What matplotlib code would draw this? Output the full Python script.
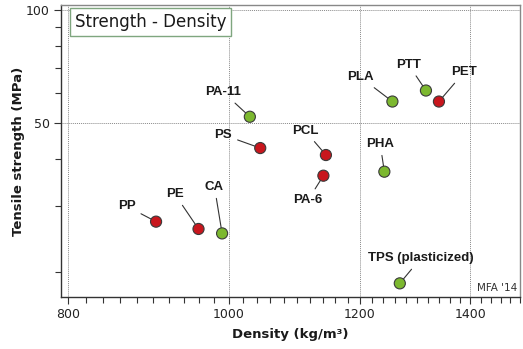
import matplotlib
matplotlib.use("Agg")
import matplotlib.pyplot as plt
from matplotlib.ticker import FixedLocator, NullFormatter, FixedFormatter

# ---- data ----
materials = ["PP", "PE", "CA", "PA-6", "TPS (plasticized)", "PA-11", "PS",
             "PCL", "PHA", "PLA", "PTT", "PET"]
density = [904, 959, 991, 1141, 1269, 1030, 1045, 1145, 1242, 1256, 1316, 1340]
strength = [27.2, 26.0, 25.3, 36.1, 18.6, 51.9, 42.8, 41.0, 37.0, 57.0, 61.0, 57.0]
biobased = [False, False, True, False, True, True, False, False, True, True, True, False]

x_major = [800, 1000, 1200, 1400]
x_major_labels = ["800", "1000", "1200", "1400"]
y_major = [50, 100]
y_major_labels = ["50", "100"]
y_minor = [20, 30, 40, 60, 70, 80, 90]
x_minor = list(range(820, 1501, 20))

# label offsets (points) relative to each marker - layout only
label_offsets = {
    "PP": (-21, 11), "PE": (-17, 25), "CA": (-5.5, 33.5), "PA-6": (-11, -17.5),
    "TPS (plasticized)": (15, 18), "PA-11": (-19, 17.5), "PS": (-26.5, 9.5),
    "PCL": (-15, 17.5), "PHA": (-3, 20), "PLA": (-23, 17.5), "PTT": (-12.5, 18.5),
    "PET": (18, 21),
}

RED = "#c8161d"
GREEN = "#7cb82f"

fig = plt.figure(figsize=(5.23, 3.49), dpi=100)
ax = fig.add_axes([61/523, 52/349, 459/523, 292/349])
ax.set_xscale("log")
ax.set_yscale("log")
ax.set_xlim(792, 1500)
ax.set_ylim(17.1, 103.3)

ax.xaxis.set_major_locator(FixedLocator(x_major))
ax.xaxis.set_major_formatter(FixedFormatter(x_major_labels))
ax.xaxis.set_minor_locator(FixedLocator(x_minor))
ax.xaxis.set_minor_formatter(NullFormatter())
ax.yaxis.set_major_locator(FixedLocator(y_major))
ax.yaxis.set_major_formatter(FixedFormatter(y_major_labels))
ax.yaxis.set_minor_locator(FixedLocator(y_minor))
ax.yaxis.set_minor_formatter(NullFormatter())

ax.tick_params(which="major", direction="out", length=5, width=0.8, color="#333333",
               labelsize=9, labelcolor="#222222", pad=3)
ax.tick_params(which="minor", direction="out", length=4, width=0.8, color="#333333")

ax.grid(True, which="major", color="#8a8a8a", linestyle=(0, (1, 1)), linewidth=0.7)
ax.set_axisbelow(True)

for s in ["left", "bottom"]:
    ax.spines[s].set_color("#333333")
    ax.spines[s].set_linewidth(1.0)
for s in ["top", "right"]:
    ax.spines[s].set_color("#888888")
    ax.spines[s].set_linewidth(1.0)

colors = [GREEN if b else RED for b in biobased]
ax.scatter(density, strength, s=64, c=colors, edgecolors="#3a3a3a", linewidths=0.8, zorder=4)

for name, xv, yv in zip(materials, density, strength):
    dx, dy = label_offsets[name]
    ax.annotate(name, xy=(xv, yv), xytext=(dx, dy), textcoords="offset points",
                ha="center", va="center", fontsize=9.5, fontweight="bold",
                family="Liberation Sans", color="#1a1a1a", zorder=3,
                arrowprops=dict(arrowstyle="-", color="#333333", lw=0.8,
                                shrinkA=2, shrinkB=0))

ax.set_xlabel("Density (kg/m³)", fontsize=9.5, fontweight="bold", color="#1a1a1a", labelpad=5)
ax.set_ylabel("Tensile strength (MPa)", fontsize=9.5, fontweight="bold", color="#1a1a1a", labelpad=1)

ax.text(0.0305, 0.972, "Strength - Density", transform=ax.transAxes, ha="left", va="top",
        fontsize=12, color="#1a1a1a",
        bbox=dict(boxstyle="square,pad=0.3", facecolor="white", edgecolor="#7fa67f", linewidth=1.0))

ax.text(0.995, 0.012, "MFA '14", transform=ax.transAxes, ha="right", va="bottom",
        fontsize=7.5, color="#333333")

fig.savefig("out.png", dpi=100)
